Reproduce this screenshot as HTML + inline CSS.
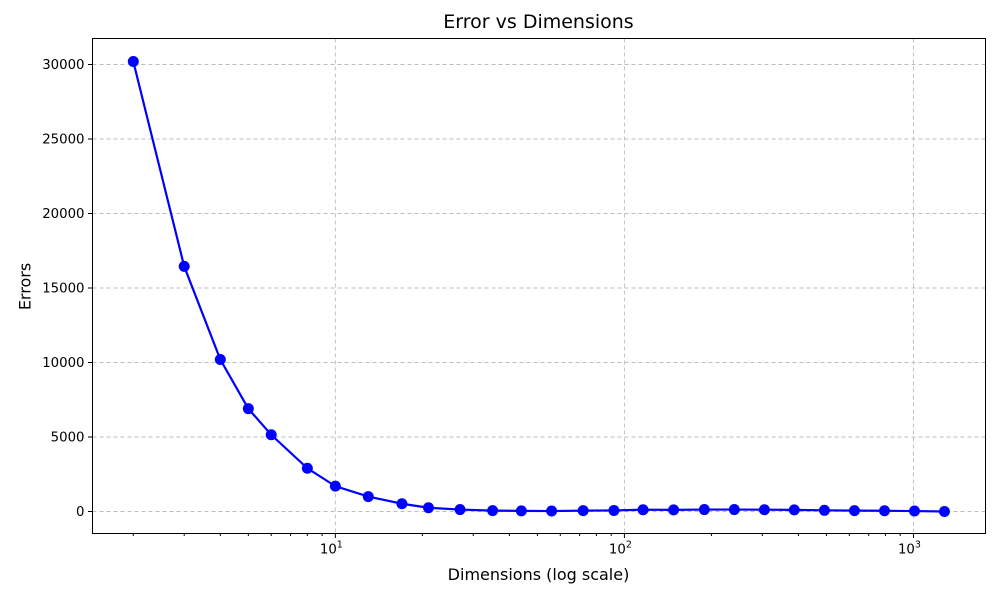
<!DOCTYPE html>
<html><head><meta charset="utf-8"><style>body{margin:0;background:#fff}svg{display:block;font-family:"DejaVu Sans",sans-serif}div{font-family:"DejaVu Sans",sans-serif}</style></head>
<body>
<svg id="c" width="1000" height="600"></svg>
<script>
const dims=[2,3,4,5,6,8,10,13,17,21,27,35,44,56,72,92,116,148,189,240,305,387,492,625,794,1008,1280];
const errors=[30200,16450,10200,6900,5150,2900,1700,1000,520,250,130,60,40,30,60,70,120,110,130,130,120,110,80,60,50,30,0];
const yTicks=[0,5000,10000,15000,20000,25000,30000];
const xDecades=[1,2,3];
const L=92.5,R=985.5,T=38.5,B=533.5;
const xMin=Math.log10(1.445),xMax=Math.log10(1775),yMin=-1477,yMax=31745;
const X=d=>L+(Math.log10(d)-xMin)/(xMax-xMin)*(R-L);
const Y=v=>B-(v-yMin)/(yMax-yMin)*(B-T);
const svg=document.getElementById('c');const NS='http://www.w3.org/2000/svg';
function mk(t,a,p,txt){const e=document.createElementNS(NS,t);for(const k in a)e.setAttribute(k,a[k]);if(txt!==undefined)e.textContent=txt;(p||svg).appendChild(e);return e;}
let g;
g=mk('g',{});


yTicks.forEach(v=>mk('line',{x1:L,x2:R,y1:Y(v),y2:Y(v),stroke:'#bdbdbd','stroke-dasharray':'4,3','stroke-width':0.9},g));
xDecades.forEach(e=>mk('line',{x1:X(10**e),x2:X(10**e),y1:T,y2:B,stroke:'#bdbdbd','stroke-dasharray':'4,3','stroke-width':0.9},g));
g=mk('g',{});


yTicks.forEach(v=>{mk('line',{x1:L-4.5,x2:L,y1:Y(v),y2:Y(v),stroke:'#000'},g);mk('text',{x:L-8,y:Y(v)+4.5,'text-anchor':'end','font-size':13.3},g,String(v));});
g=mk('g',{});


for(let e=0;e<=3;e++)for(let m=1;m<10;m++){const d=m*10**e;if(d<1.445||d>1775)continue;const x=X(d);mk('line',{x1:x,x2:x,y1:B,y2:B+(m===1?4.5:2.5),stroke:'#000'},g);
if(m===1){const t=mk('text',{x:x-4,y:B+20,'text-anchor':'middle','font-size':13.3},g,'10');mk('tspan',{dy:-6,'font-size':9.5},t,String(e));}}
g=mk('g',{});


mk('polyline',{points:dims.map((d,i)=>X(d)+','+Y(errors[i])).join(' '),fill:'none',stroke:'#0000ff','stroke-width':2.2},g);
dims.forEach((d,i)=>{const c=mk('circle',{cx:X(d),cy:Y(errors[i]),r:5.5,fill:'#0000ff'},g);});
mk('rect',{x:L,y:T,width:R-L,height:B-T,fill:'none',stroke:'#000','stroke-width':1});
</script>
<div style="position:absolute;top:11px;font-size:19px;margin-left:92px;width:893px;text-align:center">Error vs Dimensions</div>
<div style="position:absolute;left:92px;width:893px;top:565px;text-align:center;font-size:16px">Dimensions (log scale)</div>
<div style="position:absolute;left:-10px;top:277px;width:70px;text-align:center;transform:rotate(-90deg);font-size:16px">Errors</div>
</body></html>
